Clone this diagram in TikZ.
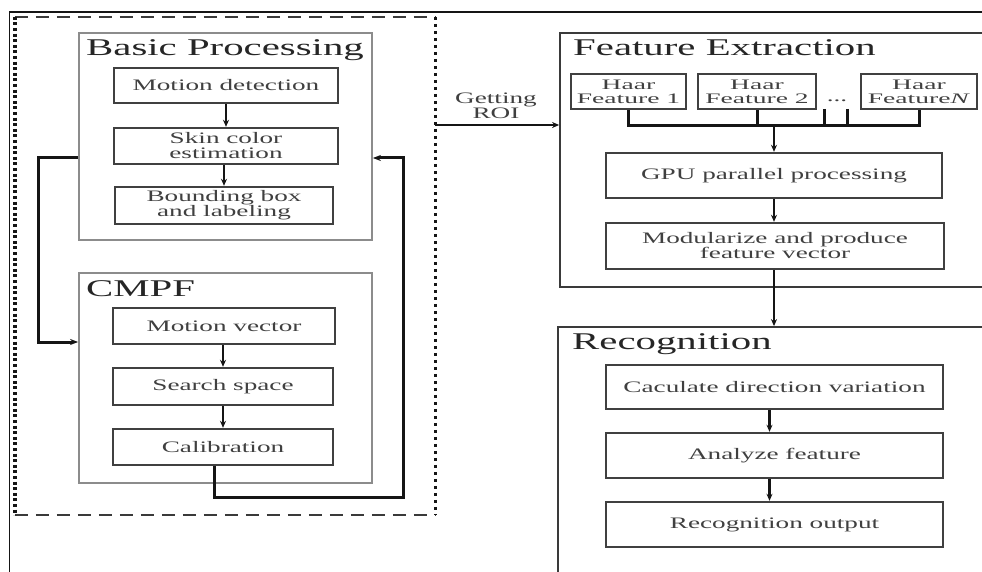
\documentclass[tikz,border=0pt]{standalone}
\usepackage{fontspec}
\setmainfont{Liberation Serif}[FakeStretch=1.7]
\newfontfamily\haarfont{Liberation Serif}[FakeStretch=1.9]
\usetikzlibrary{arrows.meta,positioning,calc}
\definecolor{boxgray}{HTML}{8C8C8C}
\definecolor{framedark}{HTML}{3A3A3A}
\definecolor{textgray}{HTML}{404040}
\definecolor{linedark}{HTML}{151515}

\begin{document}
\begin{tikzpicture}[x=1pt,y=-1pt]

%% ── helpers ───────────────────────────────────────────────
\tikzset{
  grp/.style={rectangle,draw=#1,line width=1.8pt,inner sep=0pt,fill=none},
  ttl/.style={anchor=west,inner sep=0pt,font=\fontsize{24}{24}\selectfont,black!85},
  stepbox/.style={rectangle,draw=linedark,line width=2.4pt,inner sep=0pt,align=center,
                  font=\fontsize{16}{15}\selectfont,textgray},
  haar/.style={rectangle,draw=framedark,line width=1.8pt,inner sep=0pt,align=center,
               minimum height=35pt,font=\haarfont\fontsize{14.5}{14}\selectfont,textgray},
  ann/.style={align=center,inner sep=0pt,font=\fontsize{16}{15}\selectfont,textgray},
  arr/.style={-{Stealth[length=7pt,width=6pt]},line width=2.4pt,linedark},
  loopline/.style={-{Stealth[length=8pt,width=6pt]},line width=3pt,linedark},
  busline/.style={line width=3pt,linedark},
  edgedash/.style={line width=1.8pt,framedark,dash pattern=on 13pt off 8pt},
  edgedot/.style={line width=#1,linedark,dash pattern=on 3pt off 2.6pt},
}

\useasboundingbox (0,0) rectangle (982,572);
\clip (0,0) rectangle (982,572);
\fill[white] (0,0) rectangle (982,572);

%% ── picture frame ─────────────────────────────────────────
\draw[line width=1.8pt,linedark] (9.5,580) |- (995,12);

%% ── PRE-PROCESSING (dashed region) ───────────────────────
\node[minimum width=420pt,minimum height=498pt,inner sep=0pt] (pre) at (225,266) {};
\draw[edgedash] (pre.north west) -- (pre.north east);
\draw[edgedash] (pre.south west) -- (pre.south east);
\draw[edgedot=3.6pt] (pre.north west) -- (pre.south west);
\draw[edgedot=3pt,dash pattern=on 3pt off 4pt] (pre.north east) -- (pre.south east);

%% ── BASIC PROCESSING ─────────────────────────────────────
\node[grp=boxgray,minimum width=293pt,minimum height=207pt] (bp) at (225.5,136.5) {};
\node[ttl] (bpt) at (86,50) {Basic Processing};

\node[stepbox,minimum width=224pt,minimum height=35pt] (md)  at (226,85.5)  {Motion detection};
\node[stepbox,minimum width=224pt,minimum height=36pt] (sce) at (226,146)   {Skin color\\estimation};
\node[stepbox,minimum width=218pt,minimum height=37pt] (bbl) at (224,205.5) {Bounding box\\and labeling};

\draw[arr] (md) -- (sce);
\draw[arr] (sce.south -| bbl) -- (bbl);

%% ── CMPF ─────────────────────────────────────────────────
\node[grp=boxgray,minimum width=293pt,minimum height=210pt] (cmpf) at (225.5,378) {};
\node[ttl] (cmt) at (86,289) {CMPF};

\node[stepbox,minimum width=222pt,minimum height=36pt] (mv)  at (224,326)   {Motion vector};
\node[stepbox,minimum width=220pt,minimum height=37pt] (ss)  at (223,386.5) {Search space};
\node[stepbox,minimum width=220pt,minimum height=36pt] (cal) at (223,447)   {Calibration};

\draw[arr] (mv.south -| ss) -- (ss);
\draw[arr] (ss) -- (cal);

%% ── loops between the two blocks ──
\coordinate (lpr) at (403,497);
\draw[loopline] ([yshift=-21.5pt]bp.west) -- ++(-40,0) |- ([yshift=36pt]cmpf.west);
\draw[loopline] ([xshift=-9pt]cal.south) |- (lpr) |- ([yshift=-21.5pt]bp.east);

%% ── GETTING ROI ──────────────────────────────────────────
\node[grp=framedark,minimum width=440pt,minimum height=254pt] (fe) at (780,160) {};
\coordinate (roi) at (435,125);
\draw[arr,line width=1.8pt] (roi) -- (roi -| fe.west);
\node[ann] (getroi) at (496,106) {Getting\\ROI};

%% ── FEATURE EXTRACTION ───────────────────────────────────
\node[ttl] (fet) at (573,48) {Feature Extraction};

\node[haar,minimum width=115pt] (h1) at (628.5,91.5) {Haar\\Feature 1};
\node[haar,minimum width=118pt] (h2) at (757,91.5)   {Haar\\Feature 2};
\node[haar,minimum width=116pt] (hN) at (919,91.5)   {Haar\\Feature\textit{N}};
\node[ann] (dots) at (837,101) {...};

\coordinate (bus) at (774,126);
\coordinate (d1) at (824,109);
\coordinate (d2) at (847,109);
\draw[busline] (h1.south) |- (bus) -| (hN.south);
\draw[busline] (h2.south) -- (h2.south |- bus);
\draw[busline] (d1) -- (d1 |- bus);
\draw[busline] (d2) -- (d2 |- bus);

\node[stepbox,minimum width=336pt,minimum height=45pt] (gpu) at (774,175.5) {GPU parallel processing};
\node[stepbox,minimum width=338pt,minimum height=46pt] (mod) at (775,246)
  {Modularize and produce\\feature vector};

\draw[arr] (bus) -- (gpu);
\draw[arr] (gpu.south -| bus) -- (mod.north -| bus);

%% ── RECOGNITION ──────────────────────────────────────────
\node[grp=framedark,minimum width=440pt,minimum height=274pt] (rec) at (778,464) {};
\node[ttl] (rect) at (572,344) {Recognition};

\draw[arr] (mod.south -| bus) -- (rec.north -| bus);

\node[stepbox,minimum width=337pt,minimum height=44pt] (cdv) at (774.5,387)   {Caculate direction variation};
\node[stepbox,minimum width=337pt,minimum height=45pt] (af)  at (774.5,455.5) {Analyze feature};
\node[stepbox,minimum width=337pt,minimum height=45pt] (ro)  at (774.5,524.5) {Recognition output};

\draw[arr] ([xshift=-5pt]cdv.south) -- ([xshift=-5pt]af.north);
\draw[arr] ([xshift=-5pt]af.south) -- ([xshift=-5pt]ro.north);

\end{tikzpicture}
\end{document}
